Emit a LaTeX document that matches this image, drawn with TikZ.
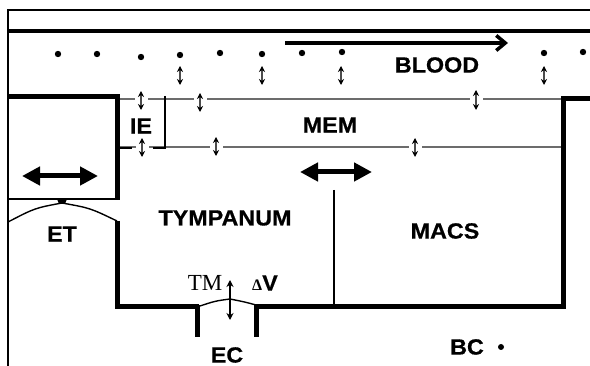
\documentclass[tikz,border=0pt]{standalone}
\usepackage{fontspec}
\setmainfont{Liberation Sans}[FakeStretch=1.06, BoldFeatures={FakeBold=0.6}]
\newfontfamily\tmfont{Liberation Serif}
\usetikzlibrary{arrows.meta}

\begin{document}
\begin{tikzpicture}[x=1pt, y=-1pt,
    wall/.style={line width=5pt},
    memline/.style={gray!85!black, line width=1.3pt},
    lbl/.style={font=\bfseries\fontsize{22}{22}\selectfont, inner sep=0pt},
    flux/.style={{Stealth[length=6pt,width=6pt,black]}-{Stealth[length=6pt,width=6pt,black]}, gray!60!black, line width=1.3pt},
    cross/.style={flux, preaction={draw=white, line width=13pt, arrows=-}},
    shiftarrow/.style={{Triangle[length=18pt,width=18pt]}-{Triangle[length=18pt,width=18pt]}, line width=5pt}]
    \useasboundingbox (0,0) rectangle (590,366);
    % Frame and vessel wall
    \draw[line width=1.4pt] (590,10) -- (8,10) -- (8,366);
    \draw[line width=4.5pt] (8,31) -- (590,31);
    % Blood flow
    \draw[line width=3.5pt, -{Straight Barb[length=9pt,width=15pt]}] (285,43) -- (508,43);
    \foreach \x/\y in {58/54, 97/54, 141/57, 180/55, 220/53, 262/54, 302/53, 342/52, 544/53, 583/52}
        \fill (\x,\y) circle (3.2pt);
    \foreach \x in {180, 262, 341, 544}
        \draw[flux] (\x,66) -- (\x,85);
    % Mucosa layers
    \draw[memline] (118,99) -- (562,99);
    \draw[memline] (118,147) -- (562,147);
    \draw[cross] (141,91) -- (141,110);
    \draw[cross] (200,93) -- (200,112);
    \draw[cross, line width=1.8pt] (476,90) -- (476,110);
    \draw[cross] (142,138) -- (142,157);
    \draw[cross] (216,137) -- (216,156);
    \draw[cross] (415,138) -- (415,157);
    \draw[line width=2.5pt] (165,96) -- (165,148) -- (153,148);
    \draw[line width=2.5pt] (117,148) -- (132,148);
    % Middle ear walls
    \draw[wall] (8,97) -- (117,97) -- (117,200);
    \draw[line width=1.4pt] (8,199) -- (117,199);
    \draw[wall] (117,221) -- (117,307) -- (199,307);
    \draw[wall] (256,307) -- (563,307) -- (563,99) -- (590,99);
    \draw[wall] (197,305) -- (197,337);
    \draw[wall] (256,305) -- (256,337);
    \draw[line width=1.4pt] (334,190) -- (334,307);
    % Eustachian tube and drum
    \draw[line width=1.4pt] (8,222) .. controls (35,208) .. (62,203) .. controls (90,208) .. (117,221);
    \fill (57,199) -- (67,199) -- (65,204) -- (59,204) -- cycle;
    \draw[line width=1.4pt] (197,307) .. controls (215,301) .. (230,299) .. controls (245,302) .. (256,305);
    \draw[line width=1.3pt, {Stealth[length=7pt,width=7pt]}-{Stealth[length=7pt,width=7pt]}] (230,280) -- (230,320);
    \draw[shiftarrow] (22,176) -- (98,176);
    \draw[shiftarrow] (300,172) -- (372,172);
    % Labels
    \node[lbl] (blood) at (437,65) {BLOOD};
    \node[lbl] (mem) at (330,125) {MEM};
    \node[lbl] (ie) at (141,126) {IE};
    \node[lbl] (tympanum) at (225,218) {TYMPANUM};
    \node[lbl] (macs) at (445,231) {MACS};
    \node[lbl] (et) at (62,234) {ET};
    \node[lbl] (ec) at (227,355) {EC};
    \node[lbl] (bc) at (467,347) {BC};
    \fill (501,347) circle (3pt);
    \node[font=\tmfont\fontsize{23}{23}\selectfont, inner sep=0pt] (tm) at (205,283) {TM};
    \node[lbl, inner sep=0pt] (dv) at (265,283) {{\tmfont\bfseries\fontsize{16}{16}\selectfont Δ}V};
\end{tikzpicture}
\end{document}
